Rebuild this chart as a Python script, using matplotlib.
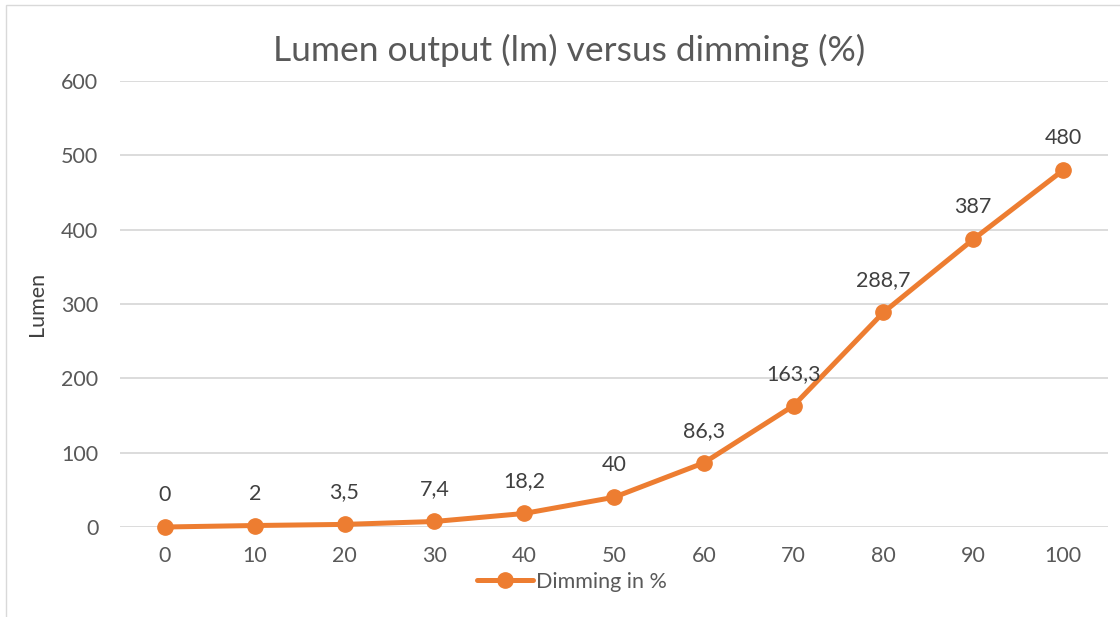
import matplotlib
matplotlib.use("Agg")
import matplotlib.pyplot as plt
from matplotlib.patches import Rectangle

categories = ["0", "10", "20", "30", "40", "50", "60", "70", "80", "90", "100"]
lumen = [0, 2, 3.5, 7.4, 18.2, 40, 86.3, 163.3, 288.7, 387, 480]
data_labels = ["0", "2", "3,5", "7,4", "18,2", "40", "86,3", "163,3", "288,7", "387", "480"]
yticks = [0, 100, 200, 300, 400, 500, 600]
series_name = "Dimming in %"
title = "Lumen output (lm) versus dimming (%)"
ylabel = "Lumen"

FONT = ["Lato", "DejaVu Sans"]
plt.rcParams['font.family'] = FONT
ORANGE = "#ED7D31"
TICK = "#595959"
LABEL = "#404040"
FS = 15.5

fig = plt.figure(figsize=(11.2, 6.17), dpi=100)
fig.patch.set_facecolor("white")
# chart border (only left/top visible in reference)
fig.add_artist(Rectangle((6/1120, -0.05), 1.2, 1 - 5/617 + 0.05, transform=fig.transFigure,
                         fill=False, edgecolor="#D9D9D9", linewidth=1.0))

ax = fig.add_axes([120/1120, 1 - 527/617, (1108-120)/1120, (527-81)/617])
x = list(range(len(categories)))
ax.plot(x, lumen, color=ORANGE, linewidth=3.6, marker="o", markersize=11,
        solid_capstyle="round", label=series_name, zorder=3, clip_on=False)
for xi, yi, lab in zip(x, lumen, data_labels):
    ax.annotate(lab, (xi, yi), xytext=(0, 23), textcoords="offset points",
                ha="center", va="center", fontsize=FS, color=LABEL)

ax.set_xlim(-0.5, 10.5)
ax.set_ylim(0, 600)
ax.set_xticks(x)
ax.set_xticklabels(categories)
ax.set_yticks(yticks)
ax.grid(axis="y", color="#D9D9D9", linewidth=1.3)
ax.set_axisbelow(True)
for s in ax.spines.values():
    s.set_visible(False)
ax.tick_params(axis="both", length=0, labelsize=FS, labelcolor=TICK)
ax.tick_params(axis="x", pad=14)
ax.tick_params(axis="y", pad=15.5)

fig.text(37/1120, 1 - 304/617, ylabel, rotation=90, ha="center", va="center",
         fontsize=FS, color=LABEL)

fig.text(569.5/1120, 1 - 50/617, title, ha="center", va="center", fontsize=25.5, color=TICK)

leg = fig.legend(loc="center", bbox_to_anchor=(572/1120, 1 - 582/617), frameon=False,
                 fontsize=FS, handlelength=2.6, handletextpad=0.15, labelcolor=TICK,
                 borderpad=0.2)

fig.savefig("out.png", dpi=100, facecolor="white")
